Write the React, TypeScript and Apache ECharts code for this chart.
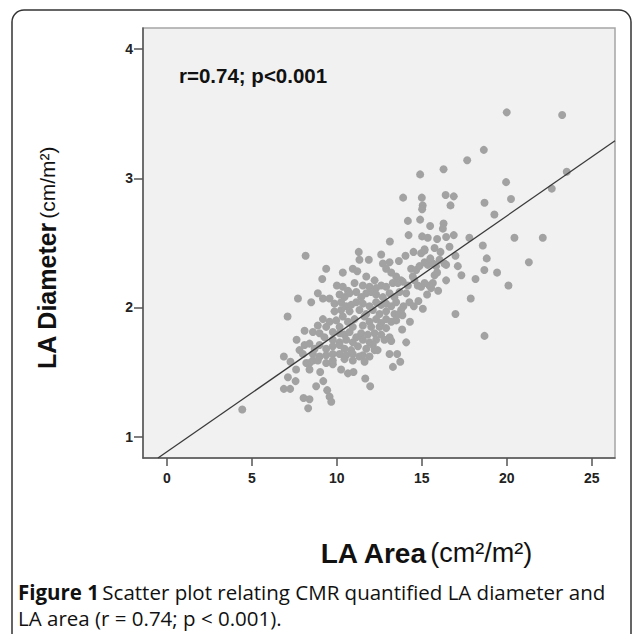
import React, { useEffect, useRef } from "react";
import * as echarts from "echarts";

// LA Area (cm²/m²) vs LA Diameter (cm/m²)
const outlierPoints: [number, number][] = [
  [20.0, 3.51], [23.26, 3.49], [18.65, 3.22], [17.67, 3.14], [16.28, 3.07], [14.9, 3.03],
  [23.53, 3.05], [19.96, 2.97], [22.65, 2.92], [13.9, 2.85], [15.0, 2.85], [16.4, 2.87],
  [16.88, 2.86], [20.25, 2.84], [18.69, 2.81], [15.05, 2.79], [15.02, 2.76], [16.69, 2.79],
  [19.27, 2.72], [14.18, 2.67], [14.9, 2.68], [15.49, 2.63], [16.28, 2.65], [16.24, 2.61],
  [14.22, 2.56], [15.02, 2.55], [15.35, 2.54], [15.9, 2.53], [16.43, 2.545], [16.88, 2.56],
  [17.8, 2.54], [20.45, 2.54], [22.12, 2.54], [13.12, 2.51], [18.59, 2.48], [15.75, 2.46],
  [15.16, 2.45], [16.63, 2.47], [21.3, 2.35], [18.82, 2.38], [18.68, 2.29], [19.43, 2.27],
  [18.16, 2.22], [17.33, 2.25], [20.1, 2.17], [17.88, 2.07], [16.98, 1.95], [18.69, 1.78],
  [17.12, 2.32], [16.98, 2.4], [16.43, 2.33], [16.43, 2.21], [15.96, 2.13],
  [8.16, 2.4], [9.37, 2.3], [9.14, 2.22], [7.71, 2.07], [8.49, 2.04], [7.1, 1.93],
  [7.63, 1.75], [6.88, 1.62], [7.27, 1.58], [7.6, 1.52], [7.12, 1.46], [7.57, 1.43],
  [6.88, 1.37], [7.25, 1.37], [4.43, 1.21], [8.04, 1.3], [8.39, 1.29], [8.31, 1.22],
  [8.78, 1.39], [9.2, 1.43], [9.43, 1.36], [9.57, 1.31], [9.67, 1.27], [8.39, 1.52],
  [8.39, 1.57], [9.02, 1.5], [9.76, 1.56], [10.25, 1.52], [10.65, 1.49], [10.98, 1.5],
  [11.67, 1.45], [11.96, 1.39], [13.3, 1.54], [13.73, 1.58], [13.1, 1.64], [13.55, 1.64],
  [14.08, 1.73], [13.84, 1.83], [14.3, 1.89], [13.86, 1.94], [14.27, 2.04], [14.53, 2.01],
  [14.8, 2.05], [15.06, 1.99], [13.92, 2.01], [15.31, 2.1], [15.45, 2.17], [13.1, 1.77],
  [13.2, 1.74], [12.22, 1.67], [12.4, 1.67],
];

const clusterPoints: [number, number][] = [
  [11.29, 2.43], [11.88, 2.37], [12.61, 2.41], [11.33, 2.37], [13.1, 2.35], [13.65, 2.36],
  [14.04, 2.4], [14.51, 2.43], [14.96, 2.42], [15.16, 2.44],
  [10.35, 2.27], [10.94, 2.3], [11.2, 2.28], [11.73, 2.24], [12.22, 2.21], [12.71, 2.34],
  [12.9, 2.3], [13.2, 2.27], [13.49, 2.24], [13.78, 2.21], [14.37, 2.3], [14.67, 2.29],
  [14.86, 2.32], [15.16, 2.35], [15.35, 2.33], [15.65, 2.34], [15.84, 2.32], [16.04, 2.37],
  [16.33, 2.34], [15.75, 2.25],
  [10.0, 2.17], [10.35, 2.16], [10.65, 2.13], [11.04, 2.19], [11.53, 2.17], [11.92, 2.16],
  [12.31, 2.15], [12.61, 2.17], [12.9, 2.16], [13.29, 2.19], [13.59, 2.19], [13.88, 2.2],
  [14.18, 2.17], [14.57, 2.21], [14.76, 2.17], [14.96, 2.16], [15.16, 2.19], [15.55, 2.15],
  [10.16, 2.1], [10.45, 2.08], [10.75, 2.11], [11.14, 2.12], [11.43, 2.08], [11.73, 2.11],
  [12.02, 2.12], [12.31, 2.1], [12.71, 2.08], [13.1, 2.11], [13.39, 2.08], [13.69, 2.12],
  [14.08, 2.11],
  [8.88, 2.11], [9.18, 2.07], [9.57, 2.07], [9.86, 2.03], [10.25, 2.04], [10.55, 2.01],
  [10.84, 2.02], [11.14, 2.04], [11.53, 2.03], [11.92, 2.01], [12.31, 2.04], [12.61, 2.02],
  [12.9, 2.03], [13.2, 2.01], [13.49, 2.04], [13.78, 1.98], [13.39, 1.95], [10.25, 1.98],
  [10.75, 1.97], [11.33, 1.98], [11.73, 1.95], [12.12, 1.98], [12.51, 1.95], [12.9, 1.97],
  [9.18, 1.91], [9.57, 1.89], [9.86, 1.97], [9.96, 1.9], [10.35, 1.93], [10.65, 1.89],
  [11.04, 1.91], [11.63, 1.93], [11.92, 1.89], [12.31, 1.91], [12.61, 1.88], [12.9, 1.91],
  [13.2, 1.89], [13.49, 1.9], [13.69, 1.95], [8.88, 1.86], [9.37, 1.85], [10.16, 1.85],
  [10.94, 1.85], [11.53, 1.86], [12.02, 1.85], [12.51, 1.85], [12.9, 1.84],
  [8.1, 1.82], [8.59, 1.81], [8.98, 1.8], [9.27, 1.77], [9.76, 1.81], [10.16, 1.8],
  [10.45, 1.79], [10.75, 1.81], [11.14, 1.77], [11.43, 1.8], [11.82, 1.79], [12.22, 1.8],
  [12.61, 1.79], [12.8, 1.75], [9.76, 1.75], [10.16, 1.73], [10.55, 1.75], [10.94, 1.73],
  [11.53, 1.75], [11.92, 1.73], [12.31, 1.75],
  [7.8, 1.67], [8.1, 1.71], [8.39, 1.72], [8.69, 1.68], [8.98, 1.71], [9.37, 1.68],
  [9.76, 1.7], [10.16, 1.71], [10.45, 1.68], [10.84, 1.67], [11.24, 1.7], [11.73, 1.68],
  [12.12, 1.71], [8.0, 1.64], [8.59, 1.64], [8.98, 1.62], [9.37, 1.63], [9.76, 1.64],
  [10.16, 1.64], [10.55, 1.63], [10.94, 1.64], [11.53, 1.63], [11.92, 1.62],
  [8.59, 1.59], [8.88, 1.59], [9.37, 1.57], [9.76, 1.59], [10.45, 1.6], [10.94, 1.59],
  [11.33, 1.62], [11.63, 1.58], [8.2, 1.57],
  [14.47, 2.24], [15.65, 2.19], [16.1, 2.43], [15.5, 2.38], [15.9, 2.27],
];

// Fit line endpoints (LA Area, LA Diameter)
const fitLine: [number, number][] = [
  [-0.53, 0.835],
  [26.37, 3.29],
];

const xTicks = [0, 5, 10, 15, 20, 25];
const yTicks = [1, 2, 3, 4];
const xRange = [-1.41, 26.37];
const yRange = [0.835, 4.163];

const annotation = "r=0.74; p<0.001";
const caption =
  "{b|Figure 1} {n|Scatter plot relating CMR quantified LA diameter and}\n{n|LA area (r = 0.74; p < 0.001).}";

export default function App() {
  const ref = useRef<HTMLDivElement>(null);
  useEffect(() => {
    if (!ref.current) return;
    const chart = echarts.init(ref.current, undefined, { renderer: "svg" });
    const labelFont = "'Liberation Sans', Arial, sans-serif";
    const capFont = "'Open Sans', sans-serif";
    const tickLabel = {
      fontFamily: labelFont,
      fontWeight: "bold" as const,
      fontSize: 14,
      color: "#222",
    };
    chart.setOption({
      animation: false,
      backgroundColor: "#fff",
      grid: {
        left: 143,
        top: 28,
        width: 472,
        height: 430,
        show: true,
        backgroundColor: "#f1f1f1",
        borderColor: "#a5a5a5",
        borderWidth: 1.5,
      },
      xAxis: {
        type: "value",
        min: xRange[0],
        max: xRange[1],
        splitLine: { show: false },
        axisLine: { show: true, onZero: false, lineStyle: { color: "#555", width: 1.5 } },
        axisTick: { show: true, length: 8, customValues: xTicks, lineStyle: { color: "#555", width: 1.5 } },
        axisLabel: { ...tickLabel, margin: 13, customValues: xTicks },
      },
      yAxis: {
        type: "value",
        min: yRange[0],
        max: yRange[1],
        splitLine: { show: false },
        axisLine: { show: true, onZero: false, lineStyle: { color: "#555", width: 1.5 } },
        axisTick: { show: true, length: 9, customValues: yTicks, lineStyle: { color: "#555", width: 1.5 } },
        axisLabel: { ...tickLabel, margin: 10, customValues: yTicks },
      },
      series: [
        {
          type: "scatter",
          data: [...outlierPoints, ...clusterPoints],
          symbolSize: 8,
          itemStyle: { color: "#a2a2a2", opacity: 1 },
          z: 2,
        },
        {
          type: "line",
          data: fitLine,
          symbol: "none",
          lineStyle: { color: "#3a3a3a", width: 1.3 },
          z: 3,
        },
      ],
      graphic: [
        {
          type: "rect",
          shape: { x: 12, y: 10, width: 619, height: 640, r: 12 },
          style: { fill: "none", stroke: "#333", lineWidth: 1.5 },
          z: 10,
        },
        {
          type: "text",
          x: 179,
          y: 75,
          style: {
            text: annotation,
            fontFamily: labelFont,
            fontWeight: "bold",
            fontSize: 20.5,
            fill: "#111",
            textVerticalAlign: "middle",
          },
          z: 10,
        },
        {
          type: "text",
          x: 47,
          y: 258,
          rotation: Math.PI / 2,
          style: {
            text: "{b|LA Diameter} {n|(cm/m²)}",
            textAlign: "center",
            textVerticalAlign: "middle",
            rich: {
              b: { fontFamily: labelFont, fontWeight: "bold", fontSize: 25, fill: "#111" },
              n: { fontFamily: labelFont, fontSize: 21, fill: "#111" },
            },
          },
          z: 10,
        },
        {
          type: "text",
          x: 426,
          y: 553,
          style: {
            text: "{b|LA Area} {n|(cm²/m²)}",
            textAlign: "center",
            textVerticalAlign: "middle",
            rich: {
              b: { fontFamily: labelFont, fontWeight: "bold", fontSize: 28, fill: "#111" },
              n: { fontFamily: labelFont, fontSize: 27, fill: "#111" },
            },
          },
          z: 10,
        },
        {
          type: "text",
          x: 18,
          y: 579,
          style: {
            text: caption,
            textVerticalAlign: "top",
            rich: {
              b: { fontFamily: capFont, fontWeight: "bold", fontSize: 20.5, lineHeight: 26, fill: "#111" },
              n: { fontFamily: capFont, fontSize: 20.5, lineHeight: 26, fill: "#111" },
            },
          },
          z: 10,
        },
      ],
    });
    return () => chart.dispose();
  }, []);
  return (
    <div
      ref={ref}
      style={{ position: "fixed", left: 0, top: 0, width: 633, height: 634, background: "#fff" }}
    />
  );
}
